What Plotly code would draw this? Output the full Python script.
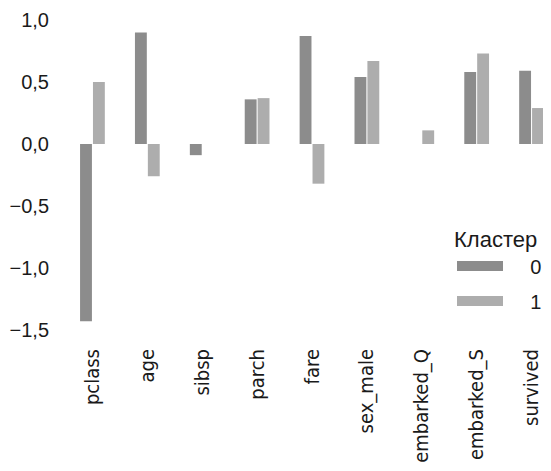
import plotly.graph_objects as go

categories = ["pclass", "age", "sibsp", "parch", "fare", "sex_male", "embarked_Q", "embarked_S", "survived"]
cluster0 = [-1.43, 0.90, -0.09, 0.36, 0.87, 0.54, 0.0, 0.58, 0.59]
cluster1 = [0.50, -0.26, 0.0, 0.37, -0.32, 0.67, 0.11, 0.73, 0.29]
ytick_vals = [1.0, 0.5, 0.0, -0.5, -1.0, -1.5]
ytick_text = ["1,0", "0,5", "0,0", "\u22120,5", "\u22121,0", "\u22121,5"]
series_names = ["0", "1"]
colors = ["#8c8c8c", "#adadad"]

fig = go.Figure()
for name, vals, col in zip(series_names, [cluster0, cluster1], colors):
    fig.add_trace(go.Bar(x=categories, y=vals, name=name, marker_color=col,
                         marker_line_width=0, showlegend=False, legendgroup=name))
    # legend proxy with a wide swatch
    fig.add_trace(go.Scatter(x=[None], y=[None], mode="lines", name="    " + name,
                             line=dict(color=col, width=10), legendgroup=name,
                             showlegend=True))

L, T = 57, 12
PW, PH = 551 - L, 310

fig.update_layout(
    width=551, height=471,
    margin=dict(l=L, r=0, t=T, b=471 - T - PH, autoexpand=False),
    paper_bgcolor="white", plot_bgcolor="white",
    barmode="group", bargap=0.53, bargroupgap=0.08,
    font=dict(family="Liberation Sans, Arial, sans-serif", size=20, color="#1a1a1a"),
    xaxis=dict(range=[-0.5, 8.5], showgrid=False, zeroline=False, showline=False,
               tickangle=-90, ticks="", ticklabelstandoff=14, automargin=False,
               tickfont=dict(family="Liberation Sans Narrow, DejaVu Sans Condensed, Open Sans", size=20)),
    yaxis=dict(range=[-1.5, 1.0], tickvals=ytick_vals, ticktext=ytick_text,
               showgrid=False, zeroline=False, showline=False, ticks="",
               ticklabelstandoff=15, automargin=False, ticklabeloverflow="allow"),
    legend=dict(title=dict(text="Кластер", font=dict(size=22)),
                xref="paper", yref="paper", x=(444 - L) / PW, y=1 - (210 - T) / PH,
                xanchor="left", yanchor="top", itemwidth=46,
                font=dict(size=20), bgcolor="rgba(0,0,0,0)", tracegroupgap=6),
)

fig.write_html("out.html")
